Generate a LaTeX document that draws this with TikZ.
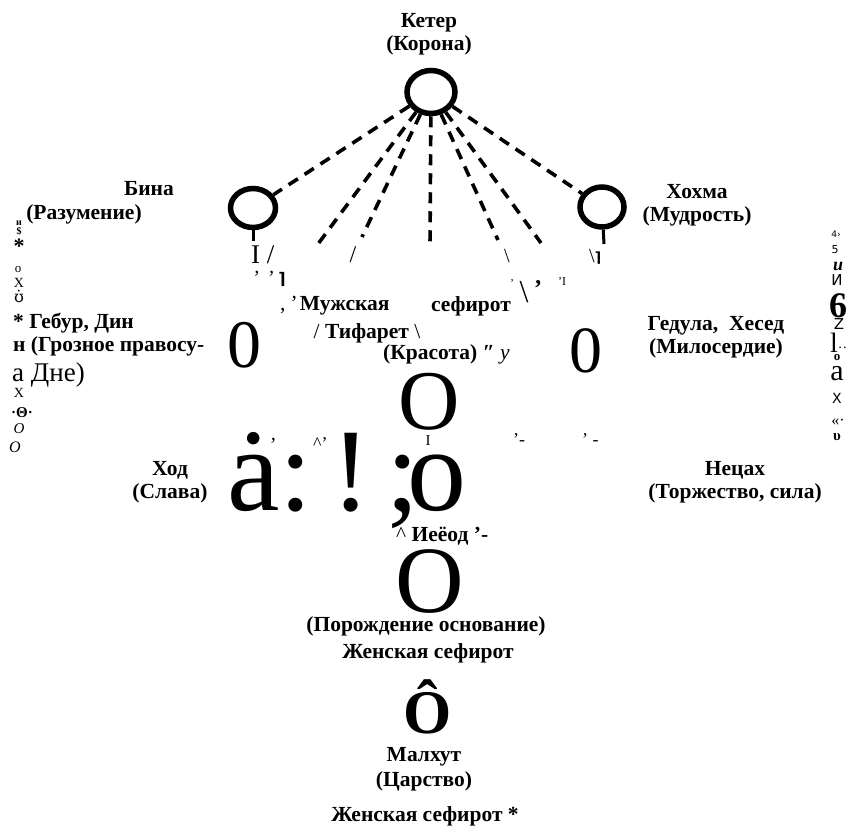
\documentclass[tikz,border=0pt]{standalone}
\usepackage{fontspec}
\setmainfont{Liberation Serif}
\newfontfamily\dvsans{DejaVu Sans}
\newfontfamily\dvserif{DejaVu Serif}
\usetikzlibrary{shapes.geometric}

\newcommand{\fsz}[1]{\fontsize{#1}{#1}\selectfont}

\tikzset{
  sefira/.style={ellipse,draw,line width=5.5pt,minimum width=45pt,minimum height=39pt,inner sep=0},
  channel/.style={line width=3.6pt,dash pattern=on 11pt off 8pt},
  stem/.style={line width=3pt},
  sefname/.style={font=\bfseries\fontsize{21.5}{22.5}\selectfont,align=center,inner sep=0,anchor=base},
  scrap/.style={inner sep=0,anchor=base},
  hugeglyph/.style={inner sep=0,anchor=base}
}

\begin{document}
\begin{tikzpicture}[x=1pt,y=-1pt]
   \useasboundingbox (0,0) rectangle (853,825);
   % Sefirot circles.
   \node[sefira,minimum width=48pt,minimum height=43pt] (keter) at (431,92) {};
   \node[sefira] (bina) at (253,208) {};
   \node[sefira,minimum width=44pt,minimum height=40pt] (hokhma) at (602,207) {};
   \coordinate (binafoot) at (253,241);
   \coordinate (hokhmafoot) at (604,244);
   \coordinate (ray1) at (318,244);
   \coordinate (ray2) at (362,237);
   \coordinate (ray3) at (430,246);
   \coordinate (ray4) at (498,240);
   \coordinate (ray5) at (541,243);
   % Channels.
   \draw[channel] (keter) -- (bina);
   \draw[channel] (keter) -- (hokhma);
   \foreach \r in {ray1,ray2,ray3,ray4,ray5}
     \draw[channel] (keter) -- (\r);
   \draw[stem] (bina) -- (binafoot);
   \draw[stem] (hokhma) -- (hokhmafoot);
   % Names (base = last line).
   \node[sefname] (keterlbl) at (429,50) {Кетер\\(Корона)};
   \node[sefname] (binalbl) at (149,195) {Бина};
   \node[sefname] (binasub) at (84,219) {(Разумение)};
   \node[sefname] (hokhmalbl) at (697,221) {Хохма\\(Мудрость)};
   \node[sefname,align=left,anchor=base west] (geburlbl) at (13,351) {* Гебур, Дин\\н (Грозное правосу-};
   \node[scrap,anchor=base west,font=\fsz{27}] (dinlbl) at (12,381) {а Дне)};
   \node[sefname] (gedulalbl) at (716,353) {Гедула,\ \ Хесед\\(Милосердие)};
   \node[sefname,anchor=base west] (malelbl) at (280,310) {{\mdseries ,\,\textit{'}}\,Мужская};
   \node[sefname] (sefirotlbl) at (471,311) {сефирот};
   \node[sefname] (tiferetlbl) at (367,338) {{\mdseries /} Тифарет {\mdseries\textbackslash}};
   \node[sefname,anchor=base west] (beautylbl) at (383,359) {(Красота) {\itshape ″} {\mdseries\itshape y}};
   \node[sefname] (hodlbl) at (170,498) {Ход\\(Слава)};
   \node[sefname] (netzachlbl) at (735,498) {Нецах\\(Торжество, сила)};
   \node[sefname,anchor=base west] (yesodlbl) at (396,541) {{\mdseries\textasciicircum}\ Иеёод '-};
   \node[sefname] (yesodsub) at (426,631) {(Порождение основание)};
   \node[sefname] (femalelbl) at (428,658) {Женская сефирот};
   \node[sefname] (malkhutlbl) at (424,786) {Малхут\\[2pt](Царство)};
   \node[sefname] (femalelbl2) at (425,821) {Женская сефирот *};
   % Big glyphs.
   \node[hugeglyph,font=\fsz{68}] (gevurah) at (244,367) {0};
   \node[hugeglyph,font=\fsz{66}] (chesed) at (586,372) {0};
   \node[hugeglyph,font=\fsz{85}] (tiferet) at (429,429) {O};
   \node[hugeglyph,anchor=base west,font=\fsz{118}] (hodrow) at (227,510) {ȧ:\kern-10pt\ !\kern-14pt\ ;\kern-12pt o};
   \node[hugeglyph,font=\fsz{95}] (yesod) at (430,612) {O};
   \node[hugeglyph,font=\bfseries\fsz{62}] (malkhut) at (428,733) {Ô};
   % Left margin scraps.
   \node[scrap,font=\bfseries\fsz{10}] (l1) at (19,225) {и};
   \node[scrap,font=\bfseries\fsz{10}] (l2) at (19,234) {\$};
   \node[scrap,font=\bfseries\fsz{22}] (l3) at (19,253) {*};
   \node[scrap,font=\fsz{13}] (l4) at (18,272) {o};
   \node[scrap,font=\fsz{14}] (l5) at (19,287) {X};
   \node[scrap,font=\dvserif\fsz{16}] (l6) at (19,302) {ʊ̇};
   \node[scrap,font=\fsz{14}] (l7) at (19,397) {X};
   \node[scrap,font=\bfseries\fsz{15}] (l8) at (22,417) {·Θ·};
   \node[scrap,font=\itshape\fsz{15}] (l9) at (19,433) {O};
   \node[scrap,font=\itshape\fsz{16}] (l10) at (15,452) {O};
   % Right margin scraps.
   \node[scrap,font=\dvsans\fsz{9}] (r1) at (836,237) {4›};
   \node[scrap,font=\dvsans\fsz{11}] (r2) at (835,253) {5};
   \node[scrap,font=\bfseries\itshape\fsz{18}] (r3) at (838,270) {u};
   \node[scrap,font=\dvsans\fsz{15}] (r4) at (837,285) {И};
   \node[scrap,font=\bfseries\fsz{36}] (r5) at (838,317) {6};
   \node[scrap,font=\dvsans\fsz{15}] (r6) at (839,329) {Z};
   \node[scrap,anchor=base west,font=\fsz{28}] (r7) at (830,352) {l\fsz{14}··};
   \node[scrap,font=\bfseries\fsz{13}] (r8) at (837,360) {o};
   \node[scrap,font=\fsz{30}] (r9) at (837,380) {a};
   \node[scrap,font=\dvsans\fsz{14}] (r10) at (837,403) {X};
   \node[scrap,font=\fsz{16}] (r11) at (838,425) {«·};
   \node[scrap,font=\bfseries\fsz{15}] (r12) at (837,440) {υ};
   % Scraps between the channels.
   \node[scrap,anchor=base west,font=\fsz{27}] (s1) at (251,263) {I /};
   \node[scrap,anchor=base west,font=\itshape\fsz{20}] (s2) at (252,284) {'\hspace{8pt}'};
   \node[scrap,font=\dvsans\bfseries\fsz{16}] (s3) at (282,284) {⌉};
   \node[scrap,font=\fsz{24}] (s4) at (353,262) {/};
   \node[scrap,font=\fsz{20}] (s5) at (507,262) {\textbackslash};
   \node[scrap,anchor=base west,font=\fsz{20}] (s6) at (589,262) {\textbackslash{\dvsans\bfseries\fsz{14}⌉}};
   \node[scrap,font=\fsz{12}] (s7) at (512,287) {'};
   \node[scrap,font=\fsz{32}] (s8) at (524,302) {\textbackslash};
   \node[scrap,font=\bfseries\fsz{24}] (s9) at (538,296) {'};
   \node[scrap,anchor=base west,font=\fsz{12}] (s10) at (558,285) {'I};
   \node[scrap,font=\itshape\fsz{20}] (s11) at (272,451) {'};
   \node[scrap,anchor=base west,font=\fsz{18}] (s12) at (313,449) {\textasciicircum'};
   \node[scrap,font=\fsz{15}] (s13) at (428,445) {I};
   \node[scrap,anchor=base west,font=\fsz{18}] (s14) at (513,445) {'-};
   \node[scrap,anchor=base west,font=\fsz{18}] (s15) at (582,445) {'\ -};
 \end{tikzpicture}
\end{document}
